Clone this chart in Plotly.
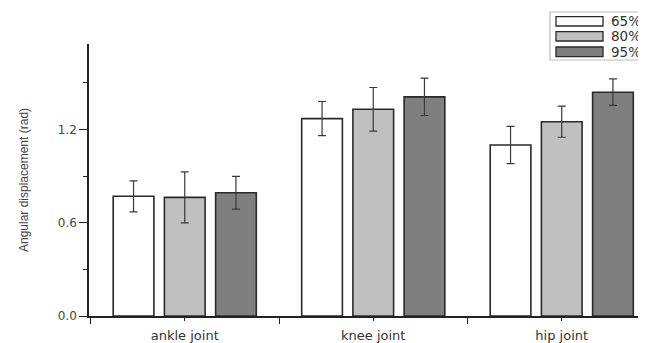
import plotly.graph_objects as go

categories = ["ankle joint", "knee joint", "hip joint"]
series_names = ["65%", "80%", "95%"]
values_65 = [0.77, 1.27, 1.10]
values_80 = [0.763, 1.33, 1.25]
values_95 = [0.793, 1.41, 1.44]
err_65 = [0.10, 0.11, 0.12]
err_80 = [0.164, 0.14, 0.10]
err_95 = [0.105, 0.12, 0.085]
y_tick_vals = [0.0, 0.6, 1.2]
y_minor_vals = [0.3, 0.9, 1.5]

colors = ["#ffffff", "#c0c0c0", "#7f7f7f"]
OFF = 8  # page body margin
W, H = 646 - OFF, 343 - OFF
L, R, T, B = 89 - OFF, 0, 44 - OFF, 27

fig = go.Figure()
xs = list(range(len(categories)))
for name, vals, errs, col in zip(series_names, [values_65, values_80, values_95],
                                 [err_65, err_80, err_95], colors):
    fig.add_trace(go.Bar(
        x=xs, y=vals, name=name,
        marker=dict(color=col, line=dict(color="#2a2a2a", width=1.6)),
        error_y=dict(type="data", array=errs, color="#3a3a3a", thickness=1.2, width=4),
        showlegend=False,
    ))

fig.update_layout(
    width=W, height=H,
    margin=dict(l=L, r=R, t=T, b=B, pad=0),
    paper_bgcolor="white", plot_bgcolor="white",
    barmode="group", bargap=0.185, bargroupgap=0.205,
    font=dict(family="DejaVu Sans", color="#333333"),
)

fig.update_xaxes(
    range=[-0.508, 2.447],
    tickmode="array", tickvals=xs, ticktext=categories,
    ticks="outside", ticklen=3, tickcolor="#222", tickwidth=1.2,
    tickfont=dict(family="DejaVu Sans", size=13, color="#333"),
    ticklabelstandoff=4,
    showline=True, linecolor="#222", linewidth=1.5,
    showgrid=False, zeroline=False,
    minor=dict(tickmode="array", tickvals=[-0.5, 0.5, 1.5], ticks="outside",
               ticklen=6, tickcolor="#222", tickwidth=1.2),
)

fig.update_yaxes(
    range=[0, 1.75],
    tickmode="array", tickvals=y_tick_vals, tickformat=".1f",
    ticks="outside", ticklen=8, tickcolor="#222", tickwidth=1.2,
    tickfont=dict(family="DejaVu Sans", size=12, color="#444"),
    showline=True, linecolor="#222", linewidth=1.5,
    showgrid=False, zeroline=False,
    minor=dict(tickmode="array", tickvals=y_minor_vals, ticks="outside",
               ticklen=4, tickcolor="#222", tickwidth=1.2),
    title=dict(text="Angular displacement (rad)",
               font=dict(family="Liberation Sans Narrow, Liberation Sans", size=12, color="#444"),
               standoff=27),
)

# custom legend drawn in page-pixel space (converted to paper coordinates)
pw, ph = W - L - R, H - T - B


def px(xp):
    return (xp - OFF - L) / pw


def py(yp):
    return 1 - (yp - OFF - T) / ph


fig.add_shape(type="rect", xref="paper", yref="paper",
              x0=px(550), x1=px(660), y0=py(60), y1=py(12),
              line=dict(color="#bbbbbb", width=1.2), fillcolor="white", layer="above")
rows = [(16.7, 26), (31.7, 41), (47, 56.7)]
for (y0, y1), name, col in zip(rows, series_names, colors):
    fig.add_shape(type="rect", xref="paper", yref="paper",
                  x0=px(556), x1=px(603), y0=py(y1), y1=py(y0),
                  line=dict(color="#2a2a2a", width=1.3), fillcolor=col, layer="above")
    fig.add_annotation(xref="paper", yref="paper", x=px(609), y=py((y0 + y1) / 2),
                       text=name, showarrow=False, xanchor="left", yanchor="middle",
                       font=dict(family="DejaVu Sans", size=13.5, color="#333"))

fig.write_html("out.html")
